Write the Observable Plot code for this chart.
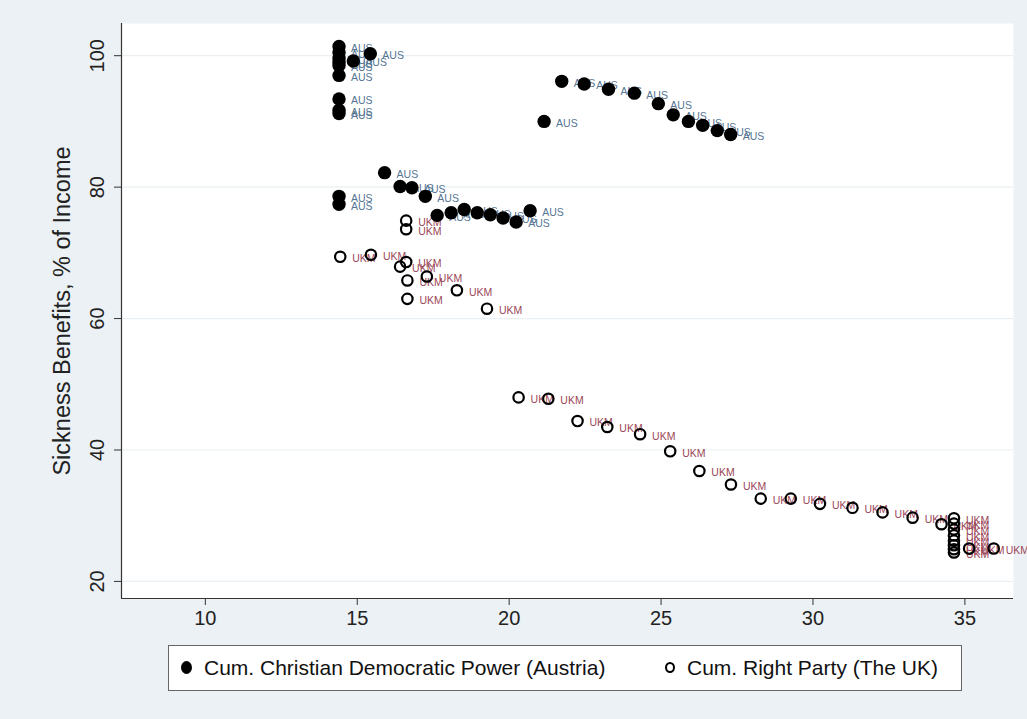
<!DOCTYPE html>
<html><head><meta charset="utf-8">
<script src="https://cdn.jsdelivr.net/npm/d3@7"></script>
<script src="https://cdn.jsdelivr.net/npm/@observablehq/plot@0.6"></script>
<style>
html,body{margin:0;padding:0;}
body{background:#ebf1f4;width:1027px;height:719px;overflow:hidden;position:relative;font-family:"Liberation Sans Narrow","Arial Narrow","Liberation Sans",sans-serif;}
#chart{position:absolute;left:0;top:0;}
#chart svg{overflow:visible;}
#legend{position:absolute;left:168px;top:645px;width:794px;height:46px;background:#fff;border:1px solid #666;box-sizing:border-box;font-size:21px;color:#111;}
#legend .item{position:absolute;top:0;height:44px;line-height:44px;white-space:nowrap;}
#legend .sym{display:inline-block;border-radius:50%;box-sizing:border-box;vertical-align:middle;margin-right:12px;position:relative;top:-2px;}
</style></head>
<body>
<div id="chart"></div>
<div id="legend">
  <div class="item" style="left:12px"><span class="sym" style="background:#000;width:11px;height:13px"></span>Cum. Christian Democratic Power (Austria)</div>
  <div class="item" style="left:496px"><span class="sym" style="border:2px solid #000;width:10px;height:11px"></span>Cum. Right Party (The UK)</div>
</div>
<script>
// Austria (filled)
const ausX = [14.4,14.4,14.4,14.4,14.4,14.4,14.87,15.43, 14.4,14.4,14.4, 14.4,14.4,
  15.9,16.41,16.8,17.24,17.63,18.09,18.52,18.95,19.38,19.8,20.23,20.69,
  21.15,21.73,22.47,23.27,24.12,24.91,25.4,25.9,26.37,26.85,27.29];
const ausY = [101.4,100.5,99.6,99.0,98.5,97.0,99.2,100.3, 93.4,91.7,91.2, 78.6,77.4,
  82.2,80.1,79.9,78.6,75.7,76.1,76.6,76.1,75.8,75.3,74.7,76.4,
  90.0,96.1,95.7,94.9,94.3,92.7,91.0,90.0,89.4,88.6,88.0];
// UK (hollow)
const ukX = [16.61,16.61, 14.44,15.45,16.41,16.61,16.65,17.29,16.65,18.28,19.27,
  20.31,21.29,22.25,23.23,24.31,25.3,26.26,
  27.3,28.28,29.27,30.23,31.3,32.29,33.28,34.23,
  34.64,34.64,34.64,34.64,34.64,34.64,34.64,34.64, 35.14,35.95];
const ukY = [74.9,73.6, 69.4,69.7,67.9,68.6,65.8,66.4,63.0,64.3,61.5,
  48.0,47.8,44.4,43.5,42.4,39.8,36.8,
  34.75,32.6,32.6,31.8,31.2,30.5,29.7,28.7,
  29.6,28.8,27.9,27.0,26.2,25.5,24.9,24.4, 25.0,25.0];
const ausLabel = "AUS", ukLabel = "UKM";
const xTicks = [10,15,20,25,30,35];
const yTicks = [20,40,60,80,100];
const yTitle = "Sickness Benefits, % of Income";

const aus = ausX.map((x,i)=>({x, y: ausY[i], label: ausLabel}));
const uk = ukX.map((x,i)=>({x, y: ukY[i], label: ukLabel}));
const xDom = [7.24, 36.6], yDom = [17.4, 104.9];

const chart = Plot.plot({
  width: 1027, height: 645,
  marginLeft: 121, marginRight: 14, marginTop: 23, marginBottom: 47,
  style: {background: "transparent", fontFamily: "'Liberation Sans Narrow','Arial Narrow','Liberation Sans',sans-serif"},
  x: {domain: xDom, label: null},
  y: {domain: yDom, label: null},
  marks: [
    Plot.frame({fill: "#fff", stroke: null}),
    Plot.ruleY(yTicks, {stroke: "#e9eff2", strokeWidth: 1.2}),
    Plot.ruleX([xDom[0]], {stroke: "#333", strokeWidth: 1.2}),
    Plot.ruleY([yDom[0]], {stroke: "#333", strokeWidth: 1.2}),
    Plot.axisX({ticks: xTicks, label: null, tickSize: 7, tickPadding: 5, fontSize: 20, stroke: "#333", color: "#222"}),
    Plot.axisY({ticks: yTicks, label: null, tickSize: 7, tickFormat: () => "", stroke: "#333"}),
    Plot.text(yTicks, {y: d => d, text: d => String(d), frameAnchor: "left", dx: -24, rotate: -90, textAnchor: "middle", fontSize: 20, fill: "#222"}),
    Plot.text([yTitle], {y: (yDom[0]+yDom[1])/2, text: d => d, frameAnchor: "left", dx: -59, rotate: -90, textAnchor: "middle", fontSize: 23.5, fill: "#222"}),
    Plot.text(aus, {x: "x", y: "y", text: "label", dx: 12, dy: 2, textAnchor: "start", fontSize: 10.5, fill: "#557593", fontFamily: "Liberation Sans"}),
    Plot.text(uk, {x: "x", y: "y", text: "label", dx: 12, dy: 2, textAnchor: "start", fontSize: 10.5, fill: "#9b4657", fontFamily: "Liberation Sans"}),
    Plot.dot(aus, {x: "x", y: "y", r: 6.7, fill: "#000", stroke: null}),
    Plot.dot(uk, {x: "x", y: "y", r: 5.2, fill: "none", stroke: "#000", strokeWidth: 2.2})
  ]
});
document.getElementById("chart").appendChild(chart);
</script>
</body></html>
